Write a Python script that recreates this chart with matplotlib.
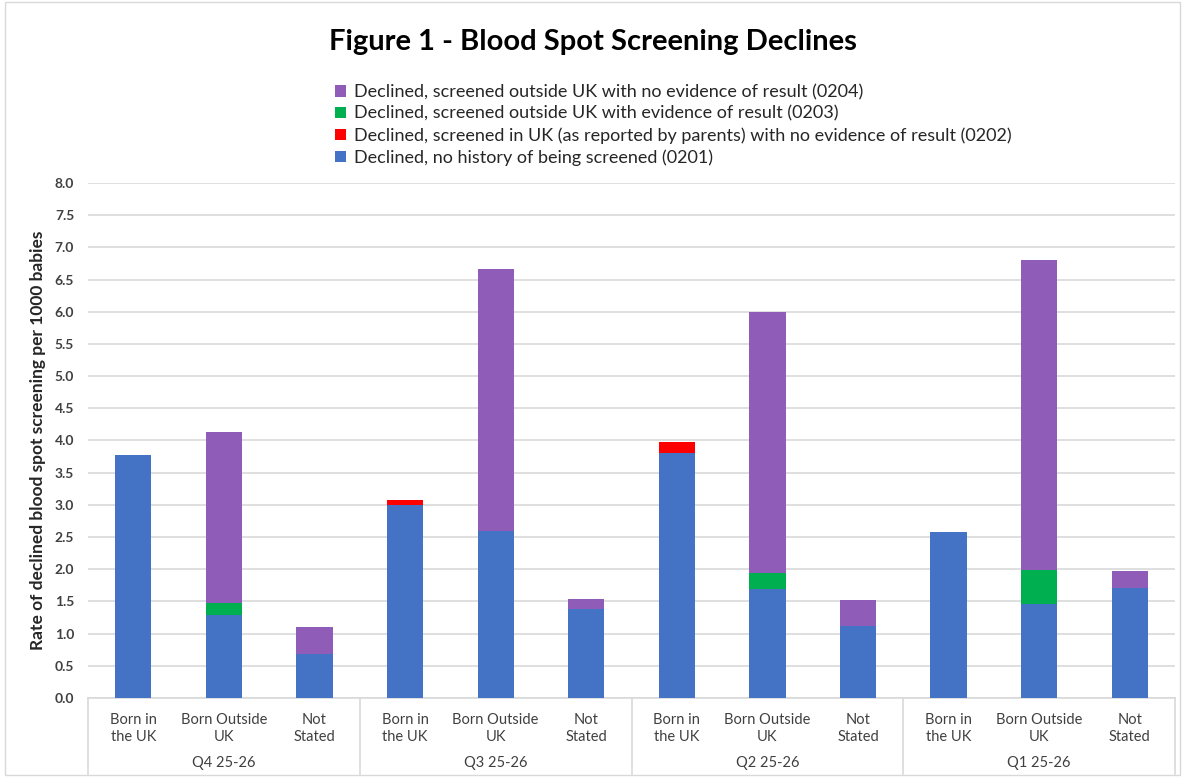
import matplotlib
matplotlib.use("Agg")
import matplotlib.pyplot as plt
from matplotlib.patches import Rectangle
import matplotlib.transforms as mtransforms
import numpy as np

plt.rcParams['font.family'] = ['Lato', 'DejaVu Sans']

quarters = ["Q4 25-26", "Q3 25-26", "Q2 25-26", "Q1 25-26"]
subcats = ["Born in\nthe UK", "Born Outside\nUK", "Not\nStated"]

# order: per quarter -> Born in UK, Born Outside UK, Not Stated
s0201 = [3.78, 1.29, 0.68, 3.00, 2.59, 1.38, 3.80, 1.69, 1.12, 2.58, 1.46, 1.71]
s0202 = [0.00, 0.00, 0.00, 0.08, 0.00, 0.00, 0.17, 0.00, 0.00, 0.00, 0.00, 0.00]
s0203 = [0.00, 0.18, 0.00, 0.00, 0.00, 0.00, 0.00, 0.25, 0.00, 0.00, 0.53, 0.00]
s0204 = [0.00, 2.66, 0.42, 0.00, 4.07, 0.16, 0.00, 4.05, 0.40, 0.00, 4.81, 0.26]

series = [
    ("Declined, no history of being screened (0201)", s0201, "#4472C4"),
    ("Declined, screened in UK (as reported by parents) with no evidence of result (0202)", s0202, "#FF0000"),
    ("Declined, screened outside UK with evidence of result (0203)", s0203, "#00B050"),
    ("Declined, screened outside UK with no evidence of result (0204)", s0204, "#8F5DB7"),
]

fig = plt.figure(figsize=(11.85, 7.77), dpi=100)
ax = fig.add_axes([0.0743, 0.1017, 0.9173, 0.6628])

x = np.arange(len(s0201))
bottom = np.zeros(len(x))
handles = []
for label, vals, col in series:
    vals = np.array(vals)
    h = ax.bar(x, vals, width=0.4, bottom=bottom, color=col, label=label, zorder=3)
    handles.append(h)
    bottom += vals

ax.set_xlim(-0.5, len(x) - 0.5)
ax.set_ylim(0, 8)
ax.set_yticks(np.arange(0, 8.01, 0.5))
ax.set_yticklabels([f"{v:.1f}" for v in np.arange(0, 8.01, 0.5)], fontsize=10,
                   fontweight='bold', color='#404040')
ax.yaxis.grid(True, color='#d9d9d9', linewidth=1.2, zorder=0)
ax.tick_params(axis='y', length=0, pad=10)
ax.tick_params(axis='x', length=0)
for sp in ['top', 'right', 'left']:
    ax.spines[sp].set_visible(False)
ax.spines['bottom'].set_color('#d9d9d9')
ax.spines['bottom'].set_linewidth(1.2)

ax.set_xticks(x)
ax.set_xticklabels([subcats[i % 3] for i in x], fontsize=10.5, color='#404040',
                   linespacing=1.25)
ax.tick_params(axis='x', pad=11)

trans = mtransforms.blended_transform_factory(ax.transData, ax.transAxes)
for b in np.arange(-0.5, len(x), 3):
    ax.plot([b, b], [0, -0.148], transform=trans, color='#d9d9d9', lw=1.2,
            clip_on=False)
for qi, q in enumerate(quarters):
    ax.text(qi * 3 + 1, -0.127, q, transform=trans, ha='center', va='center',
            fontsize=10.5, color='#404040')

ax.set_ylabel("Rate of declined blood spot screening per 1000 babies",
              fontsize=12.5, fontweight='bold', color='#262626', labelpad=6)

fig.text(0.5, 0.946, "Figure 1 - Blood Spot Screening Declines", ha='center',
         va='center', fontsize=21, fontweight='bold', color='black')

leg = fig.legend(handles[::-1], [s[0] for s in series][::-1], loc='upper left',
                 bbox_to_anchor=(0.277, 0.901), frameon=False, fontsize=13,
                 handlelength=0.6, handleheight=0.6, handletextpad=0.4,
                 labelspacing=0.3, borderaxespad=0, labelcolor='#262626')

fig.add_artist(Rectangle((0.004, 0.003), 0.992, 0.994, transform=fig.transFigure,
                         fill=False, edgecolor='#d9d9d9', linewidth=1))

fig.savefig("out.png", dpi=100)
